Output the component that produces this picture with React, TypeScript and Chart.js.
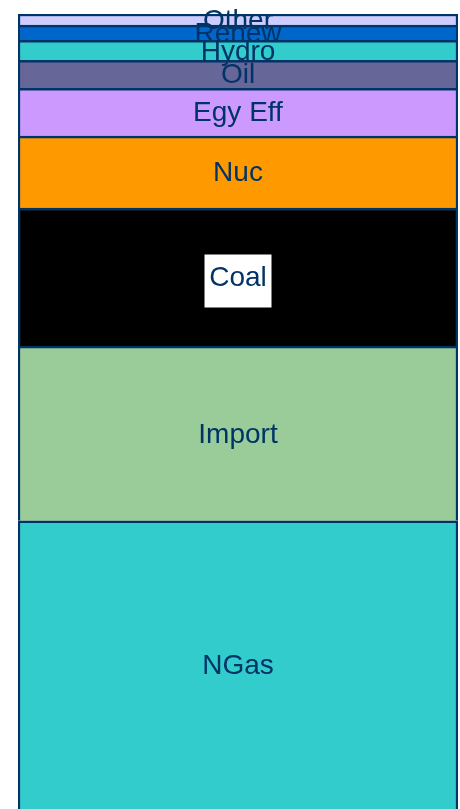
import React, { useEffect, useRef } from "react";
import { Chart, registerables } from "chart.js";

Chart.register(...registerables);

// Stack order from bottom to top
const categories = ["NGas", "Import", "Coal", "Nuc", "Egy Eff", "Oil", "Hydro", "Renew", "Other"];
const shares = [36.5, 21.9, 17.3, 9.0, 6.0, 3.5, 2.5, 1.9, 1.4];
const fills = ["#33cccc", "#99cc99", "#000000", "#ff9900", "#cc99ff", "#666699", "#33cccc", "#0066cc", "#ccccff"];
const boxedLabels = ["Coal"];

const FONT = '"Liberation Sans", Arial, sans-serif';
const INK = "#003366";

const labelPlugin = {
  id: "segLabels",
  afterDatasetsDraw(chart: any) {
    const ctx = chart.ctx;
    const area = chart.chartArea;
    ctx.save();
    ctx.font = `28px ${FONT}`;
    ctx.textAlign = "center";
    ctx.textBaseline = "middle";
    chart.data.datasets.forEach((ds: any, i: number) => {
      const meta = chart.getDatasetMeta(i);
      const el: any = meta.data[0];
      if (!el) return;
      const top = Math.min(el.y, el.base);
      const bottom = Math.min(Math.max(el.y, el.base), area.bottom);
      const cx = (area.left + area.right) / 2;
      const cy = (top + bottom) / 2 + 1.5;
      if (boxedLabels.includes(ds.label)) {
        ctx.fillStyle = "#ffffff";
        ctx.fillRect(cx - 33.5, cy - 24, 67, 53);
      }
      ctx.fillStyle = INK;
      ctx.fillText(ds.label, cx, cy);
    });
    ctx.restore();
  },
};

export default function App() {
  const ref = useRef<HTMLCanvasElement | null>(null);
  useEffect(() => {
    if (!ref.current) return;
    const chart = new Chart(ref.current, {
      type: "bar",
      data: {
        labels: [""],
        datasets: categories.map((c, i) => ({
          label: c,
          data: [shares[i]],
          backgroundColor: fills[i],
          borderColor: INK,
          borderWidth: 2.5,
          barPercentage: 1,
          categoryPercentage: 1,
          stack: "s",
        })),
      },
      options: {
        animation: false,
        responsive: true,
        maintainAspectRatio: false,
        layout: { padding: { left: 18, right: 2, top: 14, bottom: 0 } },
        plugins: { legend: { display: false }, tooltip: { enabled: false } },
        scales: {
          x: { stacked: true, display: false },
          y: { stacked: true, display: false, min: 0.4, max: 100 },
        },
      },
      plugins: [labelPlugin],
    });
    return () => chart.destroy();
  }, []);
  return (
    <div style={{ position: "absolute", left: 0, top: 0, width: 460, height: 809 }}>
      <canvas ref={ref} style={{ display: "block" }} />
    </div>
  );
}
